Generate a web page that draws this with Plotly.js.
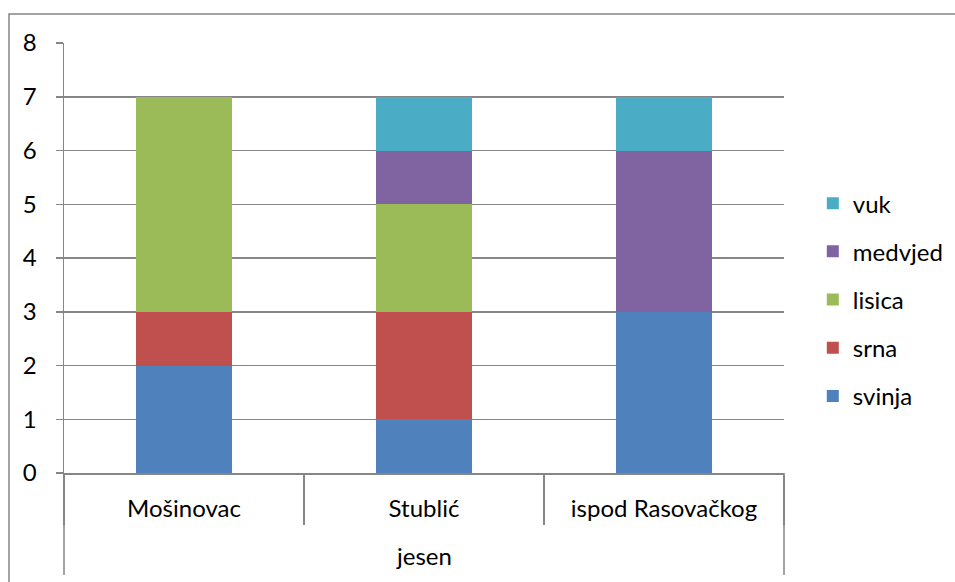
<!DOCTYPE html>
<html>
<head>
<meta charset="utf-8">
<script src="https://cdn.plot.ly/plotly-3.0.1.min.js"></script>
<style>html,body{margin:0;padding:0;background:#fff;}#chart{width:955px;height:582px;}</style>
</head>
<body>
<div id="chart"></div>
<script>
const season = "jesen";
const locations = ["Mošinovac", "Stublić", "ispod Rasovačkog"];
const svinja = [2, 1, 3];
const srna = [1, 2, 0];
const lisica = [4, 2, 0];
const medvjed = [0, 1, 3];
const vuk = [0, 1, 1];
const yTicks = [0, 1, 2, 3, 4, 5, 6, 7, 8];

const seriesNames = ["svinja", "srna", "lisica", "medvjed", "vuk"];
const seriesValues = [svinja, srna, lisica, medvjed, vuk];
const colors = ["#4F81BD", "#C0504D", "#9BBB59", "#8064A2", "#4BACC6"];

const FONT = "Lato, 'Open Sans', sans-serif";
const GRAY = "#868686";
const data = seriesNames.map((n, i) => ({
  type: "bar",
  name: n,
  x: locations,
  y: seriesValues[i],
  marker: {color: colors[i], line: {width: 0}},
  legendgroup: n,
  legendrank: seriesNames.length - i,
  hoverinfo: "none"
}));

const layout = {
  width: 955, height: 582,
  margin: {l: 64, r: 171, t: 43, b: 109, autoexpand: false},
  paper_bgcolor: "#fff", plot_bgcolor: "#fff",
  barmode: "stack",
  bargap: 0.6,
  font: {family: FONT, size: 24, color: "#000"},
  xaxis: {
    type: "category",
    showline: true, linecolor: GRAY, linewidth: 1.5,
    ticks: "outside", tickson: "boundaries", ticklen: 50, tickcolor: GRAY, tickwidth: 1.5,
    ticklabelstandoff: 14,
    tickfont: {family: FONT, size: 24, color: "#000"},
    showgrid: false
  },
  yaxis: {
    range: [0, 8], tickvals: yTicks, ticktext: yTicks.map(String),
    showline: true, linecolor: GRAY, linewidth: 1.5,
    ticks: "outside", ticklen: 7, tickcolor: GRAY, tickwidth: 1.5,
    ticklabelstandoff: 14,
    showgrid: true, gridcolor: GRAY, gridwidth: 1.5,
    zeroline: false,
    tickfont: {family: FONT, size: 24, color: "#000"}
  },
  legend: {
    x: 1.04, y: 0.679, xanchor: "left", yanchor: "top",
    traceorder: "grouped", tracegroupgap: 14,
    font: {family: FONT, size: 24, color: "#000"},
    itemwidth: 30
  },
  annotations: [{
    text: season, xref: "paper", yref: "paper", x: 0.5, y: -0.193,
    xanchor: "center", yanchor: "middle", showarrow: false,
    font: {family: FONT, size: 24, color: "#000"}
  }],
  shapes: [
    {type: "rect", xref: "paper", yref: "paper",
     x0: -0.0764, x1: 1.5, y0: -0.4, y1: 1.0674,
     line: {color: GRAY, width: 1.5}, fillcolor: "rgba(0,0,0,0)", layer: "below"},
    {type: "line", xref: "paper", yref: "paper", x0: 0, x1: 0, y0: 0, y1: -0.237,
     line: {color: GRAY, width: 1.5}},
    {type: "line", xref: "paper", yref: "paper", x0: 1, x1: 1, y0: 0, y1: -0.237,
     line: {color: GRAY, width: 1.5}}
  ]
};

Plotly.newPlot("chart", data, layout, {displayModeBar: false, staticPlot: true});
</script>
</body>
</html>
